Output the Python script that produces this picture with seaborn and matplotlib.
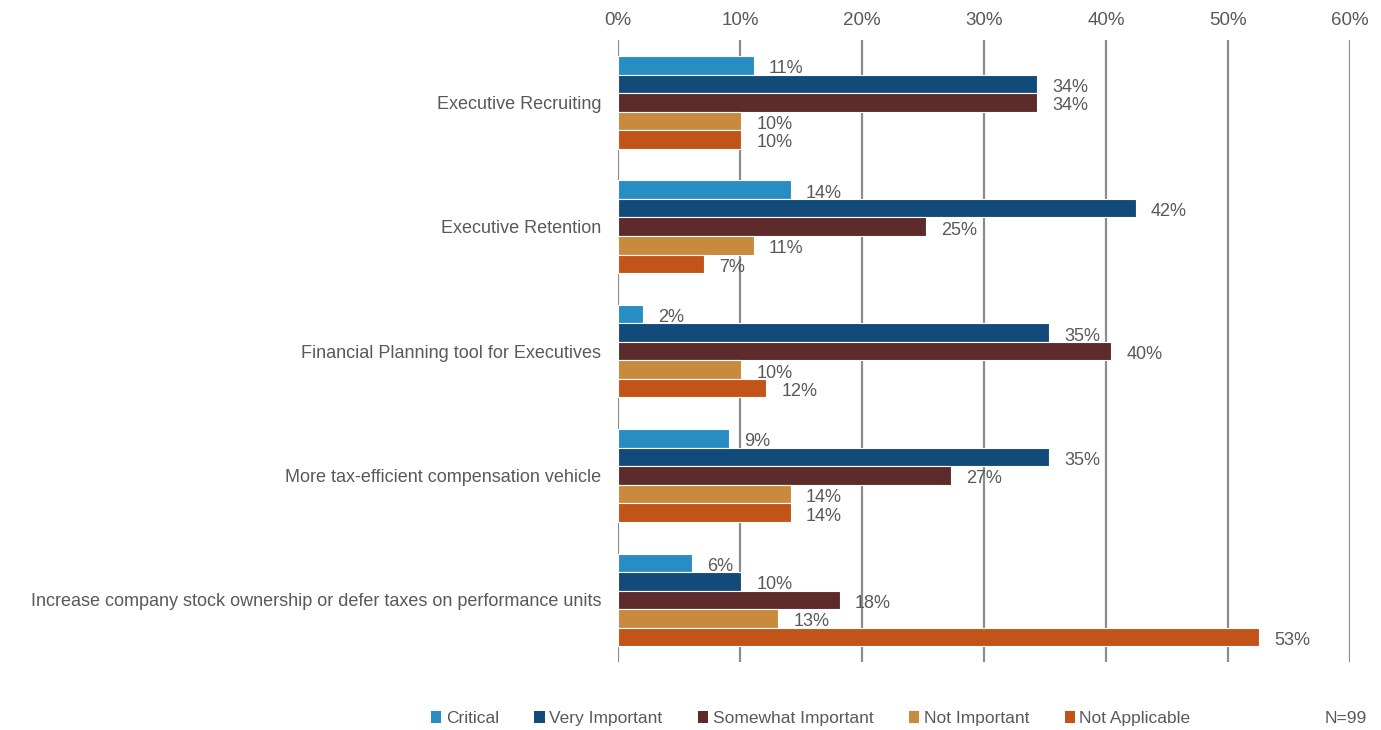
import matplotlib
matplotlib.use("Agg")
import matplotlib.pyplot as plt
import seaborn as sns
import pandas as pd
from matplotlib.patches import Patch

# Survey responses (number of respondents out of N)
N = 99
categories = [
    "Executive Recruiting",
    "Executive Retention",
    "Financial Planning tool for Executives",
    "More tax-efficient compensation vehicle",
    "Increase company stock ownership or defer taxes on performance units",
]
levels = ["Critical", "Very Important", "Somewhat Important", "Not Important", "Not Applicable"]
critical = [11, 14, 2, 9, 6]
very_important = [34, 42, 35, 35, 10]
somewhat_important = [34, 25, 40, 27, 18]
not_important = [10, 11, 10, 14, 13]
not_applicable = [10, 7, 12, 14, 52]
ticks = [0, 10, 20, 30, 40, 50, 60]

colors = ["#288DC3", "#124A79", "#5E2B2B", "#C98A3E", "#C35419"]
text_color = "#595959"

counts = [critical, very_important, somewhat_important, not_important, not_applicable]
rows = []
for lvl, vals in zip(levels, counts):
    for cat, v in zip(categories, vals):
        rows.append({"category": cat, "level": lvl, "pct": v / N * 100})
df = pd.DataFrame(rows)

sns.set_theme(style="white")
plt.rcParams["font.family"] = ["Liberation Sans", "DejaVu Sans"]

fig = plt.figure(figsize=(13.81, 7.3), dpi=100)
ax = fig.add_axes([0.4475, 0.093, 0.5301, 0.852])

sns.barplot(
    data=df, y="category", x="pct", hue="level", order=categories,
    hue_order=levels, palette=colors, orient="h", width=0.745,
    edgecolor="white", linewidth=0.8, saturation=1, legend=False, ax=ax,
    zorder=3,
)

ax.set_xlim(0, 60)
ax.set_ylim(len(categories) - 0.5, -0.5)
ax.set_xticks(ticks)
ax.set_xticklabels([f"{t}%" for t in ticks])
ax.xaxis.tick_top()
ax.tick_params(axis="x", length=0, pad=8, labelsize=13.5, labelcolor=text_color)
ax.tick_params(axis="y", length=0, pad=12, labelsize=13, labelcolor=text_color)
ax.set_xlabel("")
ax.set_ylabel("")
for s in ax.spines.values():
    s.set_visible(False)
for t in ticks:
    ax.axvline(t, color="#8C8C8C", linewidth=1.6, zorder=1)

# value labels just beyond each bar end
for container in ax.containers:
    labels = ax.bar_label(container, labels=[f"{w:.0f}%" for w in container.datavalues],
                          padding=11, fontsize=13, color=text_color)
    for lab in labels:
        lab.xyann = (11, -2.5)

handles = [Patch(facecolor=c, edgecolor="none") for c in colors]
fig.legend(handles, levels, loc="center", bbox_to_anchor=(0.587, 0.016),
           ncol=5, frameon=False, handlelength=0.6, handleheight=0.75,
           handletextpad=0.25, columnspacing=2.05, fontsize=12.5,
           labelcolor=text_color)
fig.text(0.99, 0.016, "N=99", ha="right", va="center", fontsize=12.5, color=text_color)

fig.savefig("out.png", dpi=100)
